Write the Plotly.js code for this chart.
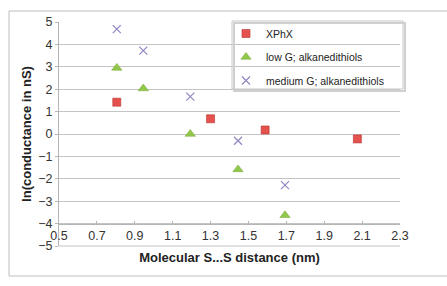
<!DOCTYPE html>
<html><head><meta charset="utf-8">
<script src="https://cdn.plot.ly/plotly-3.0.1.min.js"></script>
<style>html,body{margin:0;padding:0;background:#fff}#c{width:447px;height:286px}</style>
</head><body><div id="c"></div>
<script>
const xphxX = [0.805, 1.30, 1.588, 2.075];
const xphxY = [1.42, 0.68, 0.18, -0.22];
const lowX = [0.805, 0.945, 1.193, 1.445, 1.693];
const lowY = [2.95, 2.03, 0.0, -1.58, -3.63];
const medX = [0.805, 0.945, 1.193, 1.445, 1.693];
const medY = [4.68, 3.72, 1.67, -0.30, -2.28];
const names = ['XPhX', 'low G; alkanedithiols', 'medium G; alkanedithiols'];

const F = 'Liberation Sans, Arial, sans-serif';
const traces = [
  {x: xphxX, y: xphxY, name: names[0], type: 'scatter', mode: 'markers', legendgroup: 'a',
   marker: {symbol: 'square', size: 8, color: '#e5514d', line: {color: '#b8322f', width: 0.6}}},
  {x: lowX, y: lowY, name: names[1], type: 'scatter', mode: 'markers', legendgroup: 'b',
   marker: {symbol: 'triangle-up', size: 9, color: '#92c84a', line: {color: '#74a536', width: 0.5}}},
  {x: medX, y: medY, name: names[2], type: 'scatter', mode: 'markers', legendgroup: 'c',
   marker: {symbol: 'x-thin-open', size: 8, color: '#8f86c2', line: {color: '#8f86c2', width: 1.2}}}
];
const px = v => (v - 59) / 341;
const py = v => (246 - v) / 224;
const layout = {
  width: 447, height: 286,
  margin: {l: 59, r: 47, t: 22, b: 40},
  paper_bgcolor: '#fff', plot_bgcolor: 'rgba(0,0,0,0)',
  showlegend: true,
  legend: {x: px(226), y: py(19), xanchor: 'left', yanchor: 'top', bgcolor: 'rgba(0,0,0,0)',
           borderwidth: 0, tracegroupgap: 4.5, font: {family: F, size: 10.5, color: '#222'}},
  xaxis: {range: [0.5, 2.3], dtick: 0.2, tick0: 0.5, tickformat: '.1f', anchor: 'free', position: 0.1,
          showgrid: false, zeroline: false, showline: true, linecolor: '#b5b5b5', linewidth: 1,
          ticks: 'inside', ticklen: 3, tickcolor: '#b5b5b5',
          tickfont: {family: F, size: 12.5, color: '#333'},
          title: {text: '<b>Molecular S...S distance (nm)</b>', font: {family: F, size: 13, color: '#222'}, standoff: 11}},
  yaxis: {range: [-5, 5], dtick: 1, showgrid: true, gridcolor: '#c4c4c4', gridwidth: 1,
          zeroline: false, showline: true, linecolor: '#b5b5b5', linewidth: 1,
          ticks: 'outside', ticklen: 3, tickcolor: '#b5b5b5',
          tickfont: {family: F, size: 12.5, color: '#333'},
          title: {text: '<b>ln(conductance in nS)</b>', font: {family: F, size: 13, color: '#222'}, standoff: 3}},
  shapes: [
    {type: 'rect', xref: 'paper', yref: 'paper', x0: px(9), x1: px(460), y0: py(276), y1: py(11),
     line: {color: '#bdbdbd', width: 1}, layer: 'below'},
    {type: 'line', xref: 'paper', yref: 'paper', x0: 0, x1: 1, y0: 0, y1: 0,
     line: {color: '#c4c4c4', width: 1}, layer: 'below'},
    {type: 'rect', xref: 'paper', yref: 'paper', x0: px(234), x1: px(405), y0: py(91), y1: py(23),
     line: {color: '#d0d0d0', width: 2}, layer: 'above'},
    {type: 'rect', xref: 'paper', yref: 'paper', x0: px(232), x1: px(403), y0: py(89), y1: py(21),
     fillcolor: 'rgba(0,0,0,0)', line: {color: '#c8c8c8', width: 1}, layer: 'above'}
  ]
};
Plotly.newPlot('c', traces, layout, {displayModeBar: false, staticPlot: true});
</script></body></html>
